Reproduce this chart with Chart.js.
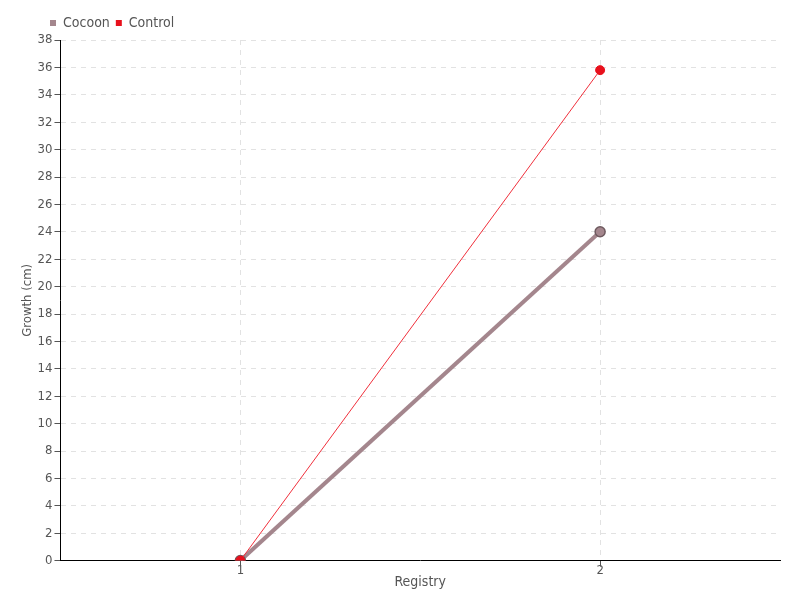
<!DOCTYPE html>
<html><head><meta charset="utf-8">
<script src="https://cdn.jsdelivr.net/npm/chart.js@4/dist/chart.umd.min.js"></script>
<style>html,body{margin:0;padding:0;background:#fff}#wrap{width:800px;height:600px}</style>
</head><body><div id="wrap"><canvas id="c" width="800" height="600"></canvas></div>
<script>
const categories = ["1", "2"];
const cocoonValues = [0, 24];
const controlValues = [0, 35.8];
const xTitle = "Registry";
const yTitle = "Growth (cm)";

const FONT = "'Liberation Sans Narrow', 'DejaVu Sans Condensed', 'Roboto', sans-serif";
Chart.defaults.font.family = FONT;
Chart.defaults.font.size = 13;
Chart.defaults.color = "#555";

const legendShift = {
  id: "legendShift",
  beforeDraw(chart) { if (chart.legend) chart.legend.left = 44; }
};

new Chart(document.getElementById("c"), {
  type: "line",
  data: {
    labels: categories,
    datasets: [
      {
        label: "Cocoon",
        data: cocoonValues,
        order: 1,
        borderColor: "#a4868d",
        backgroundColor: "#a4868d",
        borderWidth: 4,
        pointRadius: 5,
        pointBackgroundColor: "#a4868d",
        pointBorderColor: "#6e5a5f",
        pointBorderWidth: 1.5,
        tension: 0
      },
      {
        label: "Control",
        data: controlValues,
        order: 0,
        borderColor: "#f0303c",
        backgroundColor: "#e8101c",
        borderWidth: 1,
        pointRadius: 4.5,
        pointBackgroundColor: "#e8101c",
        pointBorderColor: "#e8101c",
        pointBorderWidth: 1,
        tension: 0
      }
    ]
  },
  options: {
    responsive: false,
    animation: false,
    layout: { padding: { left: 20, right: 20, top: 10, bottom: 9 } },
    plugins: {
      legend: {
        position: "top",
        align: "start",
        labels: {
          boxWidth: 6, boxHeight: 6, padding: 6,
          color: "#555",
          font: { size: 14, family: FONT },
          generateLabels(chart) {
            return chart.data.datasets.map((d, i) => ({
              text: d.label, fillStyle: d.backgroundColor, strokeStyle: d.backgroundColor,
              fontColor: "#555",
              lineWidth: 0, datasetIndex: i, hidden: false
            }));
          }
        }
      },
      tooltip: { enabled: false }
    },
    scales: {
      x: {
        offset: true,
        grid: { color: "#e2e2e2", tickColor: "#555", tickLength: 6, offset: false, drawTicks: true },
        border: { color: "#000", dash: [5,5] },
        ticks: { color: "#555", font: { size: 13, family: FONT }, padding: -4 },
        title: { display: true, text: xTitle, color: "#555", font: { size: 14, family: FONT }, padding: 0 }
      },
      y: {
        min: 0, max: 38,
        grid: { color: "#e2e2e2", tickColor: "#555", tickLength: 6 },
        border: { color: "#000", dash: [5,5] },
        ticks: { stepSize: 2, color: "#555", font: { size: 13, family: FONT }, padding: 2 },
        title: { display: true, text: yTitle, color: "#555", font: { size: 13, family: FONT }, padding: 0 }
      }
    }
  },
  plugins: [legendShift]
});
</script></body></html>
